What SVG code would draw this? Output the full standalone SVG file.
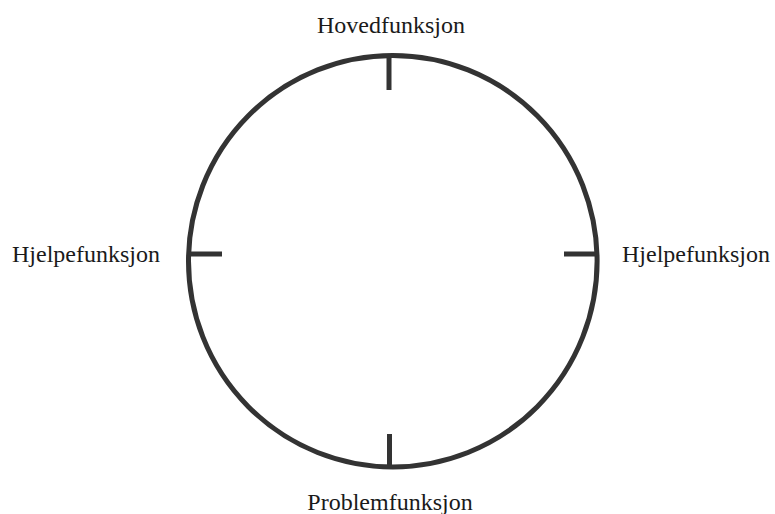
<svg xmlns="http://www.w3.org/2000/svg" width="775" height="514" viewBox="0 0 775 514">
  <style>
    .ring { fill: none; stroke: #333333; stroke-width: 5; }
    .tick { stroke: #333333; stroke-width: 5; stroke-linecap: butt; }
    .label { font-family: "Liberation Serif", "Times New Roman", serif; font-size: 24px; fill: #1a1a1a; }
  </style>
  <rect width="775" height="514" fill="#ffffff"/>

  <g id="circle">
    <ellipse class="ring" cx="392.8" cy="261.2" rx="204.3" ry="205.7"/>
  </g>

  <g id="ticks">
    <line class="tick" x1="389" y1="56" x2="389" y2="90"/>
    <line class="tick" x1="389.5" y1="466" x2="389.5" y2="434"/>
    <line class="tick" x1="189" y1="254" x2="222" y2="254"/>
    <line class="tick" x1="597" y1="254" x2="564" y2="254"/>
  </g>

  <g id="top-label">
    <text class="label" x="391" y="33" text-anchor="middle">Hovedfunksjon</text>
  </g>
  <g id="left-label">
    <text class="label" x="12" y="262">Hjelpefunksjon</text>
  </g>
  <g id="right-label">
    <text class="label" x="622" y="262">Hjelpefunksjon</text>
  </g>
  <g id="bottom-label">
    <text class="label" x="390" y="510" text-anchor="middle">Problemfunksjon</text>
  </g>
</svg>
